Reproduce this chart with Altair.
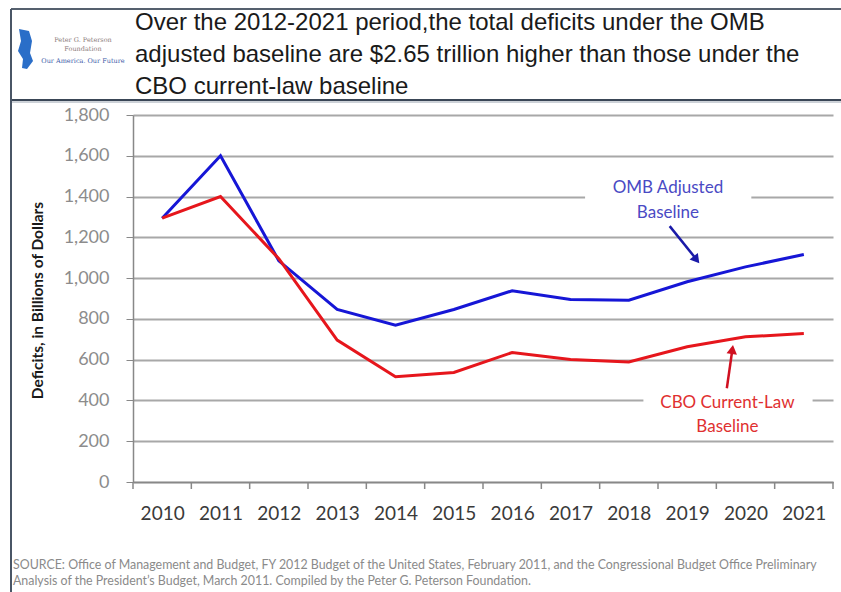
import altair as alt
import pandas as pd

years = list(range(2010, 2022))
omb = [1294, 1600, 1085, 846, 769, 846, 938, 895, 892, 982, 1055, 1116]
cbo = [1294, 1400, 1095, 696, 516, 537, 635, 601, 589, 663, 712, 728]
series_names = ["OMB Adjusted Baseline", "CBO Current-Law Baseline"]
y_ticks = list(range(0, 2000, 200))
boundaries = [y - 0.5 for y in years] + [2021.5]

title_lines = [
    "Over the 2012-2021 period,the total deficits under the OMB",
    "adjusted baseline are $2.65 trillion higher than those under the",
    "CBO current-law baseline",
]
source_lines = [
    "SOURCE: Office of Management and Budget, FY 2012 Budget of the United States, February 2011, and the Congressional Budget Office Preliminary",
    "Analysis of the President\u2019s Budget, March 2011. Compiled by the Peter G. Peterson Foundation.",
]

W, H = 700, 367
BLUE = "#1616d6"
RED = "#e6161c"
GRID = "#a8a8a8"

df = pd.DataFrame({
    "year": years * 2,
    "value": omb + cbo,
    "series": [series_names[0]] * len(years) + [series_names[1]] * len(years),
})

xscale = alt.Scale(domain=[2009.5, 2021.5], nice=False, zero=False)
yscale = alt.Scale(domain=[0, 1800], nice=False)

lines = alt.Chart(df).mark_line(strokeWidth=3).encode(
    x=alt.X("year:Q", scale=xscale,
            axis=alt.Axis(values=years, format="d", ticks=False, grid=False,
                          labelFont="Lato", labelFontSize=19, labelColor="#3a3a3a",
                          labelPadding=22, domainColor="#888", domainWidth=1.5,
                          title=None, labelFlush=False)),
    y=alt.Y("value:Q", scale=yscale,
            axis=alt.Axis(values=y_ticks, format=",.0f", grid=True, gridColor=GRID,
                          gridWidth=2, tickColor="#888", tickSize=7, domainColor="#888",
                          domainWidth=1.5, labelFont="Lato", labelFontSize=18,
                          labelColor="#8c8c8c", labelPadding=17,
                          title="Deficits, in Billions of Dollars", titleFont="Lato",
                          titleFontSize=15.5, titleFontWeight="bold", titleColor="#1a1a1a",
                          titleX=-88, titleY=185, titleAngle=-90)),
    color=alt.Color("series:N", scale=alt.Scale(domain=series_names, range=[BLUE, RED]),
                    legend=None),
)

ticks_df = pd.DataFrame({"b": boundaries})
xticks = alt.Chart(ticks_df).mark_rule(color="#888", strokeWidth=1.5).encode(
    x=alt.X("b:Q", scale=xscale),
    y=alt.value(H), y2=alt.value(H + 7),
)

# annotation backgrounds (white boxes that interrupt gridlines)
bg_df = pd.DataFrame({
    "x1": [2017.25, 2018.25], "x2": [2020.1, 2021.15],
    "y1": [1300, 235], "y2": [1500, 445],
})
bgs = alt.Chart(bg_df).mark_rect(color="white").encode(
    x=alt.X("x1:Q", scale=xscale), x2="x2:Q",
    y=alt.Y("y1:Q", scale=yscale), y2="y2:Q",
)

ann_df = pd.DataFrame({
    "x": [2018.67, 2018.67, 2019.69, 2019.69],
    "y": [1442, 1320, 386, 268],
    "t": ["OMB Adjusted", "Baseline", "CBO Current-Law", "Baseline"],
    "c": ["omb", "omb", "cbo", "cbo"],
})
ann = alt.Chart(ann_df).mark_text(font="Lato", fontSize=17, align="center",
                                  baseline="middle").encode(
    x=alt.X("x:Q", scale=xscale), y=alt.Y("y:Q", scale=yscale), text="t:N",
    color=alt.Color("c:N", scale=alt.Scale(domain=["omb", "cbo"],
                                           range=["#4a4ac4", "#e03030"]), legend=None),
)

arrow_df = pd.DataFrame({
    "x1": [2018.70, 2019.68], "y1": [1255, 460],
    "x2": [2019.17, 2019.775], "y2": [1088, 650],
    "c": ["omb", "cbo"],
})
shafts = alt.Chart(arrow_df).mark_rule(strokeWidth=2.5).encode(
    x=alt.X("x1:Q", scale=xscale), y=alt.Y("y1:Q", scale=yscale),
    x2="x2:Q", y2="y2:Q",
    color=alt.Color("c:N", scale=alt.Scale(domain=["omb", "cbo"], range=["#1a1aa8", "#d01020"]),
                    legend=None),
)
head_df = pd.DataFrame({
    "x": [2019.16, 2019.775], "y": [1090, 650], "a": [142, 8], "c": ["omb", "cbo"],
})
heads = alt.Chart(head_df).mark_point(shape="triangle-up", filled=True, size=110,
                                      opacity=1).encode(
    x=alt.X("x:Q", scale=xscale), y=alt.Y("y:Q", scale=yscale),
    angle=alt.Angle("a:Q", scale=None),
    color=alt.Color("c:N", scale=alt.Scale(domain=["omb", "cbo"], range=["#1a1aa8", "#d01020"]),
                    legend=None),
)

# header: title text
title = alt.Chart(pd.DataFrame({"t": [title_lines]})).mark_text(
    font="Liberation Sans", fontSize=24, align="left", baseline="alphabetic",
    lineHeight=32, color="#1a1a1a",
).encode(x=alt.value(2), y=alt.value(-85), text="t")

# logo text
logo_df = pd.DataFrame({
    "t": ["Peter G. Peterson", "Foundation", "Our America. Our Future"],
    "yy": [-75, -66, -54],
    "c": ["#8a7a7a", "#8a7a7a", "#3a5aa8"],
})
logo_text = alt.Chart(logo_df).mark_text(font="DejaVu Serif", fontSize=6.5,
                                         align="center", baseline="middle").encode(
    x=alt.value(-50), y=alt.Y("yy:Q", scale=None), text="t:N",
    color=alt.Color("c:N", scale=None),
)
logo_fig = alt.Chart(pd.DataFrame({"a": [0]})).mark_point(
    shape="M -0.3 -1 L 0.2 -0.9 L 0.35 -0.4 L 0.25 0.2 L 0.4 0.6 L 0.1 1 L -0.15 0.95 L -0.1 0.5 L -0.35 0.1 L -0.2 -0.4 Z",
    filled=True, size=1600, color="#2a6ec8", opacity=1,
).encode(x=alt.value(-108), y=alt.value(-66))

# header frame
frame_df = pd.DataFrame({
    "x1": [-122, -122, -122, -122],
    "x2": [708, 708, 708, -122],
    "y1": [-106, -15, -13, -106],
    "y2": [-106, -15, -13, 477],
    "w": [2, 2, 1, 2],
    "c": ["#55606e", "#3a4656", "#9aa4b0", "#4a5666"],
})
frame = alt.Chart(frame_df).mark_rule().encode(
    x=alt.X("x1:Q", scale=None), x2="x2:Q",
    y=alt.Y("y1:Q", scale=None), y2="y2:Q",
    strokeWidth=alt.StrokeWidth("w:Q", scale=None),
    color=alt.Color("c:N", scale=None),
)

src_df = pd.DataFrame({"t": source_lines, "yy": [450, 466]})
source = alt.Chart(src_df).mark_text(font="Lato", fontSize=12.4, align="left",
                                     baseline="middle", color="#8a8a8a").encode(
    x=alt.value(-120), y=alt.Y("yy:Q", scale=None), text="t:N",
)

chart = alt.layer(
    bgs, lines, xticks, ann, shafts, heads, title, logo_fig, logo_text, frame, source,
).resolve_scale(color="independent").properties(
    width=W, height=H,
    autosize=alt.AutoSizeParams(type="none"),
    padding={"left": 133, "top": 115, "right": 8, "bottom": 110},
    background="white",
).configure_view(stroke=None)

chart.save("out.html", embed_options={"renderer": "svg", "actions": False})
